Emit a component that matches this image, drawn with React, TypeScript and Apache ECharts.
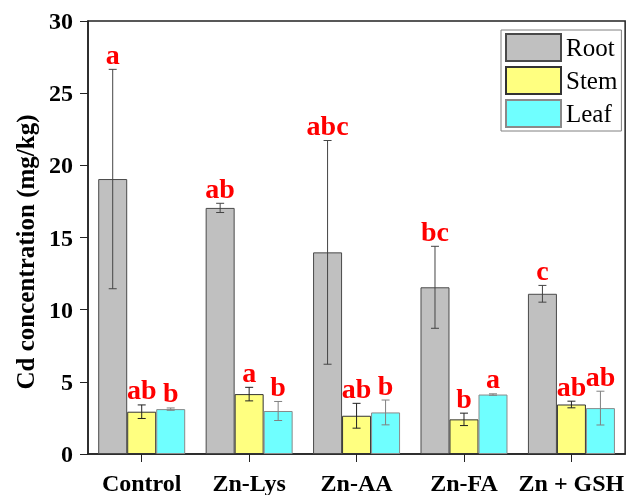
import React, { useEffect, useRef } from "react";
import * as echarts from "echarts";

const categories = ["Control", "Zn-Lys", "Zn-AA", "Zn-FA", "Zn + GSH"];
const seriesNames = ["Root", "Stem", "Leaf"];

const rootMean = [19.05, 17.05, 13.97, 11.55, 11.1];
const rootSd = [7.6, 0.32, 7.75, 2.84, 0.58];
const stemMean = [2.93, 4.15, 2.65, 2.4, 3.43];
const stemSd = [0.47, 0.47, 0.86, 0.43, 0.23];
const leafMean = [3.11, 2.98, 2.88, 4.12, 3.18];
const leafSd = [0.08, 0.66, 0.86, 0.05, 1.17];

const rootLetters = ["a", "ab", "abc", "bc", "c"];
const stemLetters = ["ab", "a", "ab", "b", "ab"];
const leafLetters = ["b", "b", "b", "a", "ab"];

const yTicks = { min: 0, max: 30, interval: 5 };

const FONT = "'Liberation Serif', 'Times New Roman', serif";
const BAR_W = 29;

const colors = ["#C0C0C0", "#FFFF80", "#6FFFFF"];
const borders = ["#4a4a4a", "#333333", "#8a8a8a"];
const errColors = ["#444444", "#222222", "#808080"];

export default function App() {
  const ref = useRef<HTMLDivElement>(null);
  useEffect(() => {
    if (!ref.current) return;
    const chart = echarts.init(ref.current, null, { renderer: "svg" });
    const means = [rootMean, stemMean, leafMean];
    const sds = [rootSd, stemSd, leafSd];
    const letters = [rootLetters, stemLetters, leafLetters];

    const barSeries = seriesNames.map((name, i) => ({
      name,
      type: "bar",
      data: means[i],
      barWidth: BAR_W,
      barGap: "0%",
      itemStyle: { color: colors[i], borderColor: borders[i], borderWidth: 1 },
      z: 2,
    }));

    const errSeries = seriesNames.map((name, i) => ({
      name: name + "-err",
      type: "custom",
      data: means[i].map((m, k) => [k, m, sds[i][k], k]),
      z: 5,
      renderItem: (params: any, api: any) => {
        const k = api.value(0);
        const m = api.value(1);
        const sd = api.value(2);
        const c = api.coord([k, m]);
        const x = c[0] + (i - 1) * BAR_W;
        const top = api.coord([k, m + sd])[1];
        const bot = api.coord([k, m - sd])[1];
        const hw = 4;
        const st = { stroke: errColors[i], lineWidth: 1 };
        return {
          type: "group",
          children: [
            { type: "line", shape: { x1: x, y1: top, x2: x, y2: bot }, style: st },
            { type: "line", shape: { x1: x - hw, y1: top, x2: x + hw, y2: top }, style: st },
            { type: "line", shape: { x1: x - hw, y1: bot, x2: x + hw, y2: bot }, style: st },
            {
              type: "text",
              style: {
                text: letters[i][k],
                x,
                y: top - 1,
                textAlign: "center",
                textVerticalAlign: "bottom",
                fill: "#FF0000",
                font: `bold 28px ${FONT}`,
              },
            },
          ],
        };
      },
    }));

    chart.setOption({
      animation: false,
      grid: {
        left: 88,
        top: 21,
        width: 540,
        height: 437,
        show: true,
        borderColor: "#222",
        borderWidth: 1.5,
        backgroundColor: "transparent",
      },
      legend: {
        data: seriesNames,
        orient: "vertical",
        left: 501,
        top: 30,
        itemWidth: 55,
        itemHeight: 27,
        itemGap: 4,
        padding: [3, 4, 3, 4],
        borderColor: "#808080",
        borderWidth: 1,
        icon: "rect",
        textStyle: { fontFamily: FONT, fontSize: 25, color: "#000" },
      },
      xAxis: {
        type: "category",
        data: categories,
        axisLine: { lineStyle: { color: "#222", width: 1.5 } },
        axisTick: { show: true, alignWithLabel: true, length: 8, inside: false, lineStyle: { color: "#222" } },
        axisLabel: { interval: 0, fontFamily: FONT, fontWeight: "bold", fontSize: 24, color: "#000", margin: 17 },
      },
      yAxis: {
        type: "value",
        min: yTicks.min,
        max: yTicks.max,
        interval: yTicks.interval,
        axisLine: { show: true, lineStyle: { color: "#222", width: 1.5 } },
        axisTick: { show: true, length: 8, inside: false, lineStyle: { color: "#222" } },
        axisLabel: { fontFamily: FONT, fontWeight: "bold", fontSize: 24, color: "#000", margin: 15 },
        splitLine: { show: false },
      },
      graphic: [
        {
          type: "text",
          x: 25,
          y: 252,
          rotation: Math.PI / 2,
          style: {
            text: "Cd concentration (mg/kg)",
            textAlign: "center",
            textVerticalAlign: "middle",
            font: `bold 25px ${FONT}`,
            fill: "#000",
          },
        },
      ],
      series: [...barSeries, ...errSeries],
    });
    return () => chart.dispose();
  }, []);
  return (
    <div
      ref={ref}
      style={{ position: "fixed", left: 0, top: 0, width: 627, height: 495 }}
    />
  );
}
